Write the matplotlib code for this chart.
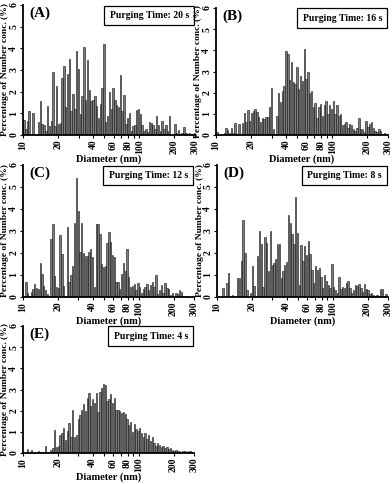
import numpy as np
import matplotlib
matplotlib.use("Agg")
import matplotlib.pyplot as plt
from matplotlib.ticker import FixedLocator, FixedFormatter, NullLocator

# SMPS bin mid-point diameters (nm)
diameters = [
    10.2, 10.6, 10.9, 11.3, 11.8, 12.2, 12.6, 13.1, 13.6, 14.1,
    14.6, 15.1, 15.7, 16.3, 16.8, 17.5, 18.1, 18.8, 19.5, 20.2,
    20.9, 21.7, 22.5, 23.3, 24.1, 25.0, 25.9, 26.9, 27.9, 28.9,
    30.0, 31.1, 32.2, 33.4, 34.6, 35.9, 37.2, 38.5, 40.0, 41.4,
    42.9, 44.5, 46.1, 47.8, 49.6, 51.4, 53.3, 55.2, 57.3, 59.4,
    61.5, 63.8, 66.1, 68.5, 71.0, 73.7, 76.4, 79.1, 82.0, 85.1,
    88.2, 91.4, 94.7, 98.2, 101.8, 105.5, 109.4, 113.4, 117.6, 121.9,
    126.3, 131.0, 135.8, 140.7, 145.9, 151.2, 156.8, 162.5, 168.5, 174.7,
    181.1, 187.7, 194.6, 201.7, 209.1, 216.7, 224.7, 232.9, 241.4, 250.3,
    259.5, 269.0, 278.8, 289.0,
]

pct_20s = [
    0.7, 0.3, 0.65, 1.1, 0.0, 1.0, 0.05, 0.0, 0.6, 1.55,
    0.5, 0.45, 0.2, 1.35, 0.4, 0.65, 2.9, 0.4, 2.25, 0.5,
    0.55, 2.65, 3.2, 1.3, 2.8, 3.5, 1.1, 1.9, 1.2, 3.9,
    3.05, 0.95, 1.8, 4.05, 1.6, 3.45, 2.1, 1.55, 1.6, 1.8,
    1.35, 0.8, 1.45, 2.15, 4.2, 0.6, 0.9, 2.0, 1.2, 2.15,
    1.6, 1.4, 1.3, 2.75, 1.1, 1.85, 0.5, 0.8, 1.0, 0.2,
    0.4, 0.45, 1.15, 1.2, 0.95, 0.45, 0.2, 0.3, 0.15, 0.6,
    0.55, 0.45, 0.3, 0.9, 0.45, 0.2, 0.65, 0.3, 0.45, 0.2,
    0.9, 0.05, 0.0, 0.5, 0.1, 0.25, 0.05, 0.1, 0.35, 0.1,
    0.05, 0.1, 0.05, 0.0,
]

pct_16s = [
    0.15, 0.0, 0.0, 0.0, 0.1, 0.35, 0.25, 0.1, 0.35, 0.1,
    0.55, 0.05, 0.5, 0.0, 0.55, 1.05, 0.6, 1.2, 0.65, 1.05,
    1.15, 1.25, 1.1, 0.85, 0.6, 0.8, 0.75, 0.85, 0.85, 1.3,
    2.2, 0.3, 0.05, 0.9, 2.0, 1.55, 2.1, 2.3, 3.95, 3.85,
    2.6, 3.45, 2.5, 2.4, 3.2, 2.15, 2.8, 2.55, 4.05, 2.65,
    3.0, 2.0, 2.1, 1.3, 1.5, 0.8, 1.3, 1.45, 0.9, 1.4,
    1.6, 1.0, 1.4, 1.25, 1.6, 1.0, 1.4, 0.9, 1.0, 0.45,
    0.5, 0.6, 0.35, 0.5, 0.45, 0.3, 0.2, 0.35, 0.8, 0.3,
    0.3, 0.15, 0.65, 0.4, 0.5, 0.6, 0.35, 0.2, 0.15, 0.3,
    0.2, 0.05, 0.1, 0.05,
]

pct_12s = [
    0.0, 0.7, 0.2, 0.0, 0.25, 0.35, 0.6, 0.4, 0.35, 1.55,
    1.05, 0.5, 0.3, 0.15, 0.0, 2.65, 3.3, 0.95, 0.45, 0.4,
    2.8, 1.95, 0.5, 0.0, 3.2, 0.7, 1.0, 1.4, 3.35, 5.4,
    3.9, 2.05, 3.35, 2.0, 1.85, 1.85, 2.05, 2.2, 1.8, 0.45,
    3.3, 3.3, 2.85, 1.5, 1.35, 1.4, 2.45, 2.95, 2.5, 1.9,
    1.8, 0.7, 0.7, 0.35, 1.05, 1.55, 1.2, 2.2, 0.9, 0.45,
    0.5, 0.6, 0.3, 0.65, 0.45, 0.2, 0.35, 0.45, 0.6, 0.3,
    0.55, 0.7, 0.45, 1.0, 0.15, 0.3, 0.55, 0.2, 0.65, 0.4,
    0.35, 0.1, 0.2, 0.05, 0.2, 0.15, 0.3, 0.25, 0.05, 0.0,
    0.05, 0.0, 0.0, 0.0,
]

pct_8s = [
    0.0, 0.0, 0.0, 0.4, 0.0, 0.65, 1.1, 0.0, 0.1, 0.0,
    0.0, 0.85, 0.85, 1.65, 3.5, 2.0, 0.3, 0.0, 0.2, 1.4,
    0.5, 0.0, 1.85, 3.0, 2.4, 0.45, 2.75, 2.45, 1.2, 3.0,
    1.45, 1.55, 1.75, 2.4, 2.4, 0.85, 1.2, 1.45, 1.6, 3.75,
    3.35, 2.85, 2.4, 4.55, 2.9, 0.55, 2.35, 1.65, 2.3, 1.9,
    2.55, 1.95, 1.25, 0.65, 1.4, 1.25, 1.3, 0.9, 0.4, 1.0,
    0.75, 0.55, 0.4, 1.5, 0.45, 0.3, 0.2, 0.9, 0.35, 0.45,
    0.4, 0.65, 0.75, 0.4, 0.2, 0.3, 0.55, 0.5, 0.6, 0.4,
    0.25, 0.6, 0.35, 0.3, 0.15, 0.2, 0.1, 0.05, 0.1, 0.05,
    0.35, 0.35, 0.05, 0.15,
]

pct_4s = [
    0.0, 0.0, 0.2, 0.0, 0.12, 0.0, 0.05, 0.0, 0.1, 0.0,
    0.05, 0.0, 0.35, 0.05, 0.0, 0.15, 0.25, 1.1, 0.3, 0.35,
    0.85, 0.95, 1.2, 0.6, 1.05, 1.4, 0.75, 2.05, 0.75, 0.85,
    1.6, 1.8, 2.05, 2.3, 2.0, 2.6, 2.85, 2.2, 2.55, 2.35,
    2.85, 1.95, 2.9, 3.05, 3.25, 3.2, 2.45, 2.55, 2.8, 2.35,
    2.6, 2.05, 2.05, 2.0, 1.9, 1.95, 1.85, 1.6, 1.3, 1.45,
    1.0, 1.35, 1.15, 1.05, 1.2, 0.95, 0.75, 0.95, 0.65, 0.85,
    0.55, 0.75, 0.45, 0.35, 0.45, 0.4, 0.3, 0.35, 0.25, 0.3,
    0.2, 0.25, 0.15, 0.1, 0.15, 0.1, 0.1, 0.05, 0.1, 0.1,
    0.05, 0.1, 0.1, 0.05,
]

panel_letters = ["(A)", "(B)", "(C)", "(D)", "(E)"]
purge_labels = ["Purging Time: 20 s", "Purging Time: 16 s", "Purging Time: 12 s",
                "Purging Time: 8 s", "Purging Time: 4 s"]
series = [pct_20s, pct_16s, pct_12s, pct_8s, pct_4s]

xtick_vals = [10, 20, 30, 40, 50, 60, 70, 80, 90, 100, 200, 300]
xtick_labels = ["10", "20", "", "40", "", "60", "", "80", "", "100", "200", "300"]
ytick_vals = [0, 1, 2, 3, 4, 5, 6]

plt.rcParams['font.family'] = ['Liberation Serif', 'DejaVu Serif']
plt.rcParams['font.weight'] = 'bold'

W, H = 392, 484
fig = plt.figure(figsize=(W / 100, H / 100), dpi=100)

# axes boxes in pixel coords: (left, right, top, bottom)
boxes = [
    (23, 195, 5, 135),
    (216, 388, 8, 135),
    (23, 194, 165, 297),
    (217, 388, 165, 297),
    (23, 194, 326, 453),
]

d = np.array(diameters)
ratio = np.exp(np.mean(np.diff(np.log(d))))
widths = d * (np.sqrt(ratio) - 1 / np.sqrt(ratio)) * 0.78

for k, (l, r, t, b) in enumerate(boxes):
    hpx = b - t
    wpx = r - l
    ax = fig.add_axes([l / W, 1 - b / H, wpx / W, hpx / H])
    ax.bar(d, series[k], width=widths, color='#7c7c7c', edgecolor='#111111',
           linewidth=0.4, align='center')
    ax.set_xscale('log')
    ax.set_xlim(10, 300)
    ax.set_ylim(0, 6)
    for s in ['top', 'right']:
        ax.spines[s].set_visible(False)
    for s in ['left', 'bottom']:
        ax.spines[s].set_linewidth(1.3)
    ax.xaxis.set_major_locator(FixedLocator(xtick_vals))
    ax.xaxis.set_major_formatter(FixedFormatter(xtick_labels))
    ax.xaxis.set_minor_locator(NullLocator())
    ax.set_yticks(ytick_vals)
    ax.tick_params(axis='x', labelsize=7, length=2.5, width=0.8, pad=1,
                   labelrotation=90)
    ax.tick_params(axis='y', labelsize=7, length=2.5, width=0.8, pad=1)
    for lab in ax.get_yticklabels():
        lab.set_rotation(90)
        lab.set_va('center')
        lab.set_fontweight('bold')
    for lab in ax.get_xticklabels():
        lab.set_fontweight('bold')
    ax.set_xlabel("Diameter (nm)", fontsize=7.5, fontweight='bold')
    ax.xaxis.set_label_coords(0.5, -24.5 / hpx)
    ax.xaxis.label.set_va('center')
    ax.set_ylabel("Percentage of Number conc. (%)", fontsize=6.8,
                  fontweight='bold')
    ax.yaxis.set_label_coords(-17.5 / wpx, 0.5)
    ax.yaxis.label.set_va('center')
    ax.text(0.035, 0.985, panel_letters[k], transform=ax.transAxes,
            fontsize=11, fontweight='bold', ha='left', va='top')
    ax.text(0.965, 0.955, purge_labels[k], transform=ax.transAxes,
            fontsize=7, fontweight='bold', ha='right', va='top',
            bbox=dict(boxstyle='square,pad=0.55', fc='white', ec='black', lw=0.9))

fig.savefig("out.png", dpi=100)
